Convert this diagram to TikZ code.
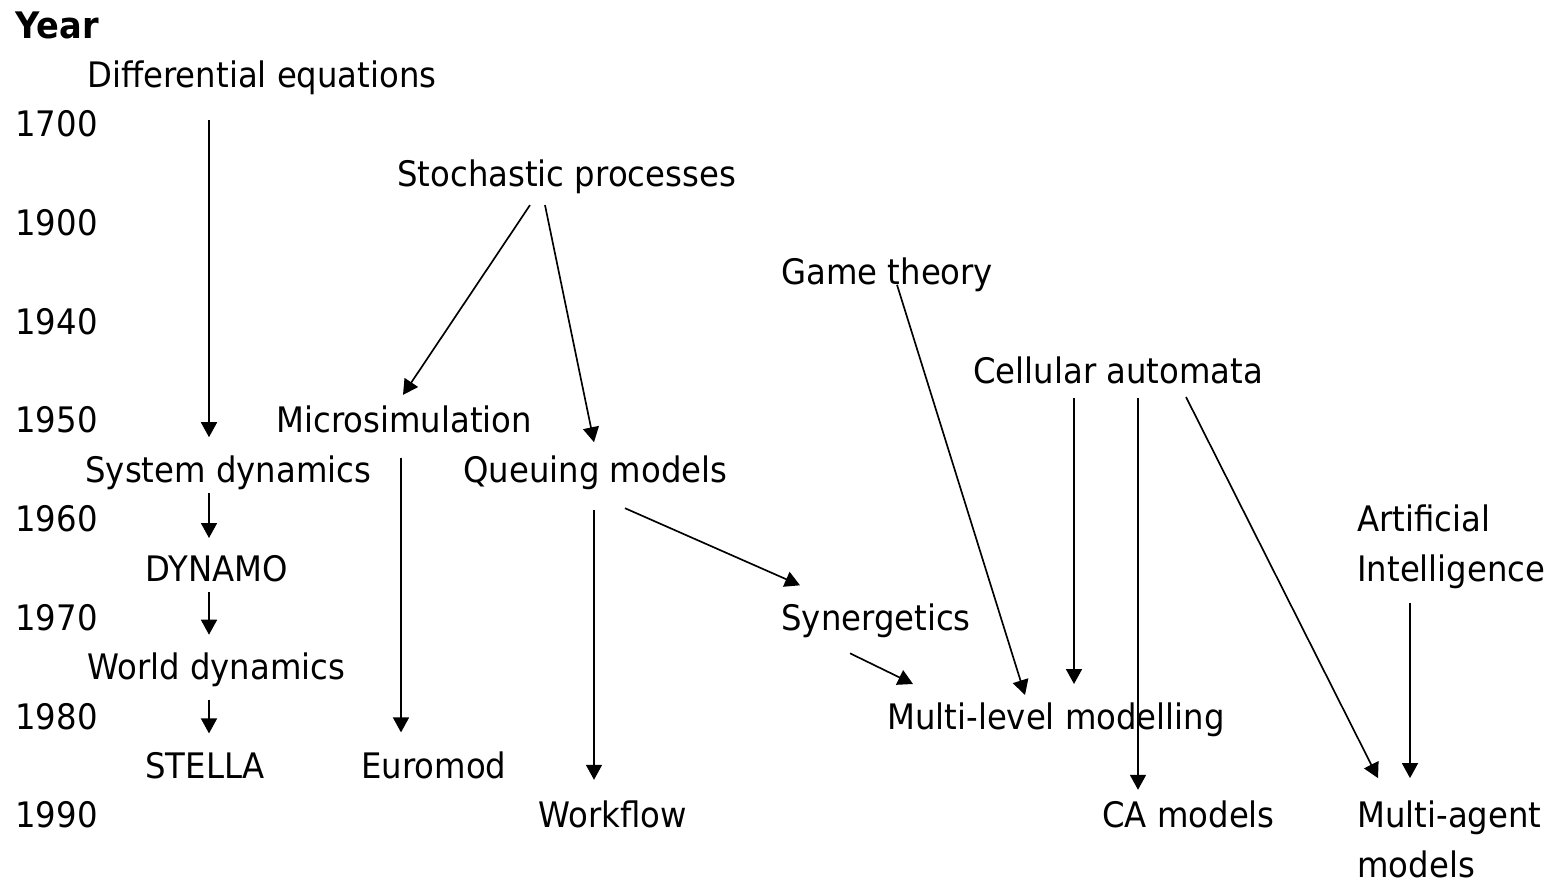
\documentclass[tikz,border=0pt]{standalone}
\usepackage{fontspec}
\setmainfont{DejaVu Sans}[FakeStretch=0.92]
\usetikzlibrary{arrows.meta}

\begin{document}
\begin{tikzpicture}[x=0.02cm, y=-0.02cm, >={Triangle[length=0.3cm, width=0.32cm]},
  font=\fontsize{20}{28.1}\selectfont,
  lbl/.style={anchor=base west, inner sep=0pt, align=left},
  arr/.style={->, line width=0.95pt}]
\useasboundingbox (0,0) rectangle (1562,883);
% year column
\node[lbl, font=\fontsize{20.8}{28.1}\selectfont\bfseries] (year) at (15,38) {Year};
\node[lbl] (y1700) at (15,136.7) {1700};
\node[lbl] (y1900) at (15,235.4) {1900};
\node[lbl] (y1940) at (15,334.2) {1940};
\node[lbl] (y1950) at (15,432.9) {1950};
\node[lbl] (y1960) at (15,531.6) {1960};
\node[lbl] (y1970) at (15,630.3) {1970};
\node[lbl] (y1980) at (15,729.0) {1980};
\node[lbl] (y1990) at (15,827.8) {1990};
% methods (multi-line nodes sit on their last line)
\node[lbl] (diffeq)  at (87,87.4)   {Differential equations};
\node[lbl] (stoch)   at (397,186.1) {Stochastic processes};
\node[lbl] (game)    at (781,284.8) {Game theory};
\node[lbl] (cell)    at (973,383.5) {Cellular automata};
\node[lbl] (micro)   at (276,432.9) {Microsimulation};
\node[lbl] (sysdyn)  at (85,482.2)  {System dynamics};
\node[lbl] (queue)   at (463,482.2) {Queuing models};
\node[lbl] (ai)      at (1357,581.0) {Artificial\\Intelligence};
\node[lbl] (dynamo)  at (145,581.0) {DYNAMO};
\node[lbl] (synerg)  at (781,630.3) {Synergetics};
\node[lbl] (world)   at (87,679.7)  {World dynamics};
\node[lbl] (mlevel)  at (887,729.0) {Multi-level modelling};
\node[lbl] (stella)  at (145,778.4) {STELLA};
\node[lbl] (euromod) at (361,778.4) {Euromod};
\node[lbl] (workflow) at (538,827.8) {Workflow};
\node[lbl] (camod)   at (1102,827.8) {CA models};
\node[lbl] (magent)  at (1357,877.1) {Multi-agent\\models};
% influences
\draw[arr] ([shift={(122,33)}]diffeq.base west) -- ([shift={(124,-45)}]sysdyn.base west);
\draw[arr] ([shift={(133,19)}]stoch.base west) -- ([shift={(127,-38)}]micro.base west);
\draw[arr] ([shift={(148,19)}]stoch.base west) -- ([shift={(131,-40)}]queue.base west);
\draw[arr] ([shift={(125,25)}]micro.base west) -- ([shift={(40,-46)}]euromod.base west);
\draw[arr] ([shift={(124,11)}]sysdyn.base west) -- ([shift={(64,-43)}]dynamo.base west);
\draw[arr] ([shift={(64,11)}]dynamo.base west) -- ([shift={(122,-45)}]world.base west);
\draw[arr] ([shift={(122,20)}]world.base west) -- ([shift={(64,-45)}]stella.base west);
\draw[arr] ([shift={(131,28)}]queue.base west) -- ([shift={(56,-48)}]workflow.base west);
\draw[arr] ([shift={(162,26)}]queue.base west) -- ([shift={(19,-45)}]synerg.base west);
\draw[arr] ([shift={(116,0)}]game.base west) -- ([shift={(138,-34)}]mlevel.base west);
\draw[arr] ([shift={(101,14.5)}]cell.base west) -- ([shift={(187,-45)}]mlevel.base west);
\draw[arr] ([shift={(165,14.5)}]cell.base west) -- ([shift={(36,-38)}]camod.base west);
\draw[arr] ([shift={(213,13.5)}]cell.base west) -- ([shift={(21,-99)}]magent.base west);
\draw[arr] ([shift={(69,23)}]synerg.base west) -- ([shift={(26,-45)}]mlevel.base west);
\draw[arr] ([shift={(53,22)}]ai.base west) -- ([shift={(53,-99)}]magent.base west);
\end{tikzpicture}
\end{document}
